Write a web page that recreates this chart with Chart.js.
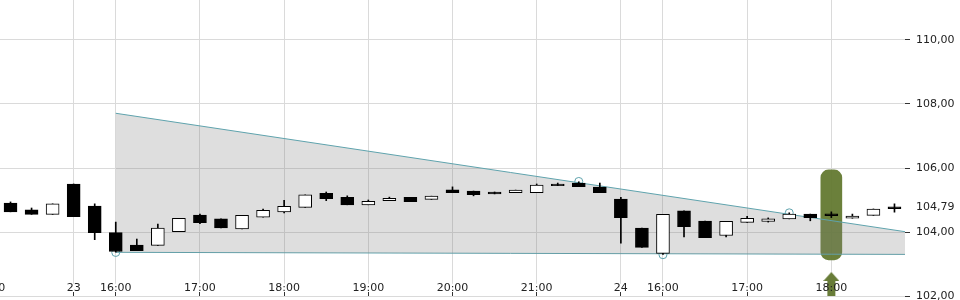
<!DOCTYPE html>
<html><head><meta charset="utf-8">
<script src="https://cdn.jsdelivr.net/npm/chart.js@4.4.1/dist/chart.umd.min.js"></script>
<style>html,body{margin:0;padding:0;background:#fff;overflow:hidden}</style>
</head><body>
<canvas id="c" width="960" height="300" style="width:960px;height:300px;display:block"></canvas>
<script>
// 15-minute candles (day hh:mm)
const candleTimes = ['20 21:15','20 21:30','20 21:45',
  '23 15:30','23 15:45','23 16:00','23 16:15','23 16:30','23 16:45','23 17:00','23 17:15','23 17:30','23 17:45',
  '23 18:00','23 18:15','23 18:30','23 18:45','23 19:00','23 19:15','23 19:30','23 19:45','23 20:00','23 20:15',
  '23 20:30','23 20:45','23 21:00','23 21:15','23 21:30','23 21:45',
  '24 15:30','24 15:45','24 16:00','24 16:15','24 16:30','24 16:45','24 17:00','24 17:15','24 17:30','24 17:45',
  '24 18:00','24 18:15','24 18:30','24 18:45'];
const openVals  = [104.90,104.69,104.55,105.50,104.81,103.98,103.59,103.58,104.01,104.53,104.41,104.10,104.46,
  104.63,104.77,105.21,105.08,104.85,104.98,105.08,105.02,105.32,105.28,105.25,105.23,105.23,105.50,105.53,105.40,
  105.03,104.12,103.33,104.66,104.34,103.89,104.30,104.33,104.41,104.56,104.51,104.43,104.52,104.73];
const highVals  = [104.94,104.75,104.88,105.50,104.88,104.31,103.78,104.25,104.43,104.56,104.41,104.52,104.72,
  104.99,105.16,105.25,105.13,105.00,105.09,105.08,105.12,105.41,105.28,105.25,105.31,105.50,105.53,105.57,105.53,
  105.08,104.12,104.55,104.66,104.34,104.33,104.49,104.44,104.60,104.56,104.63,104.56,104.72,104.88];
const lowVals   = [104.63,104.55,104.55,104.48,103.76,103.37,103.42,103.58,104.01,104.26,104.13,104.10,104.46,
  104.60,104.77,104.98,104.85,104.85,104.98,104.95,105.02,105.23,105.13,105.19,105.23,105.23,105.45,105.42,105.23,
  103.65,103.52,103.30,103.85,103.82,103.85,104.30,104.31,104.41,104.35,104.45,104.43,104.52,104.62];
const closeVals = [104.63,104.55,104.88,104.48,103.98,103.39,103.42,104.12,104.43,104.29,104.13,104.52,104.68,
  104.80,105.16,105.04,104.85,104.96,105.05,104.95,105.12,105.23,105.17,105.19,105.31,105.47,105.45,105.42,105.23,
  104.45,103.52,104.55,104.17,103.82,104.33,104.43,104.41,104.56,104.45,104.57,104.50,104.72,104.79];

// trend channel
const upperTrendX = [5, 42.5], upperTrendY = [107.71, 104.01];
const lowerTrendX = [5, 42.5], lowerTrendY = [103.365, 103.30];
const anchorX = [5, 27, 31, 37], anchorY = [103.36, 105.58, 103.29, 104.60];
// signal marker
const markerX = [39], markerLow = [103.13], markerHigh = [105.94], arrowY = [102.375];

// axis ticks
const xTickValues = [-1, 3, 5, 9, 13, 17, 21, 25, 29, 31, 35, 39];
const xTickLabels = ['21:00','23','16:00','17:00','18:00','19:00','20:00','21:00','24','16:00','17:00','18:00'];
const yTickValues = [102, 104, 104.79, 106, 108, 110];
const yTickLabels = ['102,00','104,00','104,79','106,00','108,00','110,00'];

const TEAL = '#5fa3ad';
const GREEN = 'rgba(96,118,44,0.93)';

// arrow glyph used as point style
const arrow = document.createElement('canvas');
arrow.width = 16; arrow.height = 24;
(function(){
  const g = arrow.getContext('2d');
  g.fillStyle = 'rgb(104,124,56)';
  g.beginPath();
  g.moveTo(8,0); g.lineTo(16,9); g.lineTo(12,9); g.lineTo(12,24); g.lineTo(4,24); g.lineTo(4,9); g.lineTo(0,9);
  g.closePath(); g.fill();
})();

const bodies = candleTimes.map((t, i) => ({x: i, y: [Math.min(openVals[i], closeVals[i]), Math.max(openVals[i], closeVals[i])]}));
const wicks = candleTimes.map((t, i) => ({x: i, y: [lowVals[i], highVals[i]]}));
// bearish and doji bodies are solid black, bullish bodies white
const bodyColors = candleTimes.map((t, i) =>
  (closeVals[i] < openVals[i] || Math.abs(closeVals[i] - openVals[i]) < 0.065) ? '#000' : '#fff');

Chart.defaults.font.family = "'DejaVu Sans', sans-serif";
Chart.defaults.font.size = 11;
Chart.defaults.color = '#222';

new Chart(document.getElementById('c'), {
  type: 'bar',
  data: {
    datasets: [
      { type: 'bar', data: bodies, backgroundColor: bodyColors, borderColor: '#000', borderWidth: 1,
        borderSkipped: false, barThickness: 13, grouped: false, order: 1 },
      { type: 'bar', data: wicks, backgroundColor: '#000', borderWidth: 0, barThickness: 1, grouped: false, order: 2 },
      { type: 'line', data: anchorX.map((x, i) => ({x, y: anchorY[i]})), showLine: false, pointRadius: 4,
        pointBorderColor: TEAL, pointBackgroundColor: 'rgba(0,0,0,0)', pointBorderWidth: 1, order: 3 },
      { type: 'line', data: upperTrendX.map((x, i) => ({x, y: upperTrendY[i]})), borderColor: TEAL, borderWidth: 1,
        pointRadius: 0, fill: '+1', backgroundColor: 'rgba(128,128,128,0.26)', order: 4 },
      { type: 'line', data: lowerTrendX.map((x, i) => ({x, y: lowerTrendY[i]})), borderColor: TEAL, borderWidth: 1,
        pointRadius: 0, fill: false, order: 5 },
      { type: 'bar', data: markerX.map((x, i) => ({x, y: [markerLow[i], markerHigh[i]]})), backgroundColor: GREEN,
        borderWidth: 0, borderSkipped: false, borderRadius: 8, barThickness: 21, grouped: false, order: 6 },
      { type: 'line', data: markerX.map((x, i) => ({x, y: arrowY[i]})), showLine: false, pointStyle: arrow,
        pointRadius: 8, order: 0 }
    ]
  },
  options: {
    responsive: false, animation: false, devicePixelRatio: 1,
    layout: { padding: 0, autoPadding: false },
    plugins: { legend: { display: false }, tooltip: { enabled: false } },
    scales: {
      x: {
        type: 'linear', min: -0.5, max: 42.5, offset: false, bounds: 'data',
        grid: { offset: false, color: '#dadada', tickColor: '#333', tickLength: -4, drawTicks: true },
        border: { display: false },
        ticks: {
          autoSkip: false, maxRotation: 0, mirror: true, padding: 1, z: 1,
          showLabelBackdrop: true,
          backdropColor: (ctx) => ctx.index === 11 ? 'rgba(0,0,0,0)' : '#fff',
          backdropPadding: { top: -2, bottom: -3, left: 1, right: 1 },
          callback: (v, i) => xTickLabels[i]
        },
        afterBuildTicks: (s) => { s.ticks = xTickValues.map(v => ({ value: v })); },
        afterFit: (s) => { s.height = 4; s.paddingLeft = 0; s.paddingRight = 0; }
      },
      y: {
        type: 'linear', position: 'right', min: 102, max: 111.25, bounds: 'data',
        grid: {
          color: (ctx) => ctx.tick && ctx.tick.value === 104.79 ? 'rgba(0,0,0,0)' : '#dadada',
          tickColor: (ctx) => ctx.tick && ctx.tick.value === 104.79 ? 'rgba(0,0,0,0)' : '#333',
          tickLength: 5
        },
        border: { display: false },
        ticks: { padding: 6, callback: (v, i) => yTickLabels[i] },
        afterBuildTicks: (s) => { s.ticks = yTickValues.map(v => ({ value: v })); },
        afterFit: (s) => { s.width = 55; s.paddingTop = 0; s.paddingBottom = 0; }
      }
    }
  }
});
</script>
</body></html>
